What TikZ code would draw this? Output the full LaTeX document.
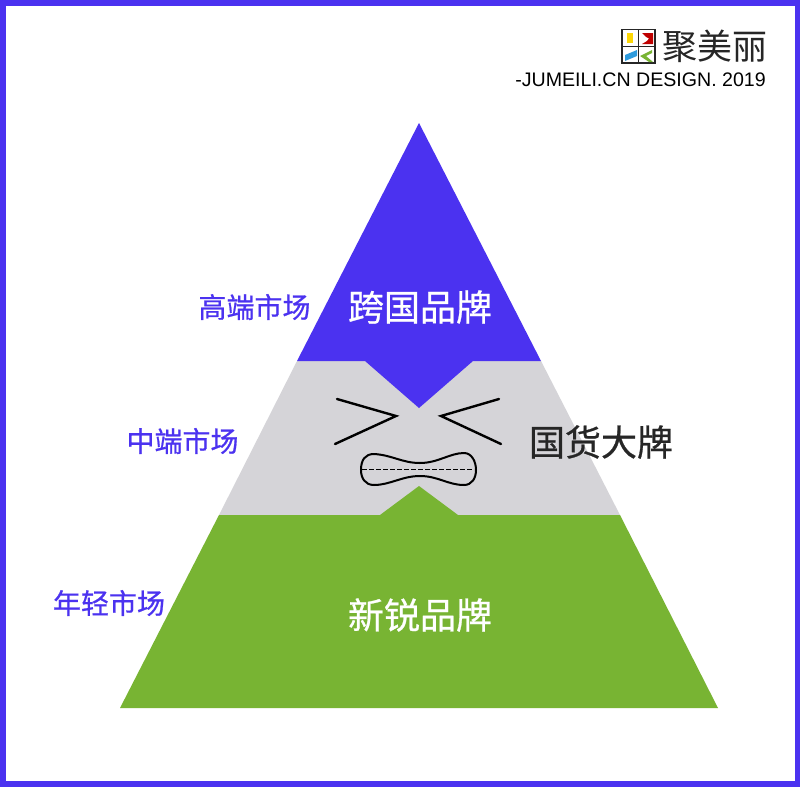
\documentclass[tikz,border=0pt]{standalone}
\usepackage{fontspec}
\setmainfont{Liberation Sans}
\newfontfamily\cjk{Noto Sans CJK SC}
\newfontfamily\cjkm[FakeBold=0.7]{Noto Sans CJK SC}
\definecolor{bluec}{HTML}{4B32F0}
\definecolor{grayc}{HTML}{D5D4D8}
\definecolor{greenc}{HTML}{78B433}
\tikzset{
  big/.style={font=\cjkm\fontsize{36}{38}\selectfont,inner sep=0pt},
  side/.style={font=\cjkm\fontsize{28}{30}\selectfont,text=bluec,inner sep=0pt},
  face/.style={line width=2.4pt,black,line cap=round,line join=miter}
}
\begin{document}
\begin{tikzpicture}[x=1pt,y=-1pt]
\useasboundingbox (0,0) rectangle (800,787);
\fill[white] (0,0) rectangle (800,787);
\draw[bluec,line width=5.5pt] (2.75,2.75) rectangle (797.25,784);
% pyramid
\fill[grayc] (297,361) -- (541,361) -- (620,515) -- (219,515) -- cycle;
\fill[bluec] (419,123) -- (541,361) -- (473,361) -- (419,408) -- (365,361) -- (297,361) -- cycle;
\fill[greenc] (219,515) -- (380,515) -- (419,486) -- (458,515) -- (620,515) -- (718,708) -- (120,708) -- cycle;
% face
\draw[face] (337,399) -- (396,416) -- (335,444);
\draw[face] (499,399) -- (441,416) -- (501,444);
\draw[black,line width=2pt] (374,454) .. controls (392,455) and (402,463) .. (420,463)
  .. controls (438,463) and (450,453) .. (464,453)
  .. controls (472,453) and (476,462) .. (476,470)
  .. controls (476,478) and (472,485) .. (464,485)
  .. controls (448,485) and (438,476) .. (420,476)
  .. controls (402,476) and (390,485) .. (374,485)
  .. controls (365,485) and (361,478) .. (361,470)
  .. controls (361,460) and (365,454) .. (374,454) -- cycle;
\draw[black,line width=1.7pt,dash pattern=on 4.5pt off 2.5pt] (362,469.5) -- (474,469.5);
% labels
\node[big,text=white] (top) at (420,307) {跨国品牌};
\node[big,text=black!85] (mid) at (601,442) {国货大牌};
\node[big,text=white] (bot) at (420,615) {新锐品牌};
\node[side] (l1) at (254.5,307) {高端市场};
\node[side] (l2) at (182.5,441) {中端市场};
\node[side] (l3) at (109,603) {年轻市场};
% logo
\draw[black!85,line width=1.7pt] (622,29.5) rectangle (655,63);
\draw[black!85,line width=1.7pt] (622,46.5) -- (655,46.5) (638.5,29.5) -- (638.5,63);
\fill[yellow!75!orange] (627,33) rectangle (633,43);
\fill[red!75!black] (642,33) -- (653,33) -- (653,44) -- (642,44) -- (647,41) -- (649,38.5) -- (646,37) -- cycle;
\fill[cyan!75!blue!85] (625,55) -- (637,50) -- (637,56) -- (625,61) -- cycle;
\fill[greenc] (640,56) -- (652,50) -- (652,53) -- (646,56) -- (653,62) -- (649,62) -- cycle;
\node[font=\cjk\fontsize{35}{36}\selectfont,inner sep=0pt,text=black!85] (logo) at (714.5,46) {聚美丽};
\node[font=\fontsize{19.6}{21}\selectfont,inner sep=0pt,anchor=east,text=black] (tag) at (766,80) {-JUMEILI.CN DESIGN. 2019};
\end{tikzpicture}
\end{document}
